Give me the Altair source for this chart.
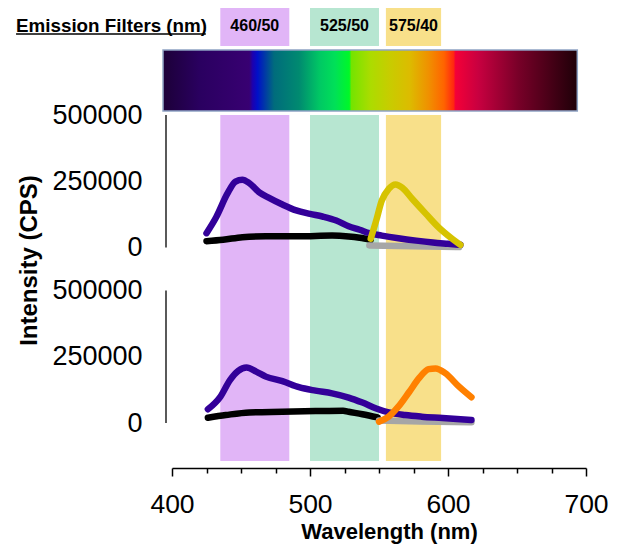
import altair as alt
import pandas as pd

FONT = "Liberation Sans"

# ---------------- data ----------------
header_title = "Emission Filters (nm)"
header_title_nm = [287.0, 424.5]          # extent of the underlined heading on the wavelength scale

filter_labels = ["460/50", "525/50", "575/40"]
filter_lo = [435, 500, 555]
filter_hi = [485, 550, 595]
filter_colors = ["#e1b5f7", "#b7e6d1", "#f8e08a"]

spectrum_range = [393.5, 693.7]
spectrum_stop_nm = [393.5, 420, 456, 458.5, 462, 474, 492, 507, 518, 528.5, 530, 544, 558, 572,
                    586, 597, 604, 605.5, 622, 651, 693.7]
spectrum_stop_colors = ["#1c0038", "#2a0060", "#380072", "#1c00b0", "#0010c8", "#006c7c", "#008a70",
                        "#00c864", "#00e058", "#00f828", "#74e400", "#acdc00", "#c8cc00", "#dcbc00",
                        "#f09000", "#ff6400", "#ff2810", "#f40038", "#c80040", "#780028", "#1e0008"]

x_major = [400, 500, 600, 700]
x_minor = [425, 450, 475, 525, 550, 575, 625, 650, 675]
y_ticks = [0, 250000, 500000]

# top panel
top_black_wl = [425, 437, 451, 468, 492, 516, 528, 536, 544]
top_black_val = [24000, 29000, 39000, 42500, 42500, 45000, 41500, 36500, 29000]
top_gray_wl = [543, 575, 608]
top_gray_val = [8000, 4500, 1500]
top_purple_wl = [425, 432, 440, 446, 451, 456, 463, 470, 480, 490, 500, 509, 519, 528, 536, 543,
                 552, 564, 577, 589, 600, 609]
top_purple_val = [54000, 114000, 202000, 249000, 256000, 243000, 209000, 188000, 162000, 140000,
                  127000, 117000, 102000, 80000, 67000, 54000, 45000, 35000, 26000, 19000, 14000, 10000]
top_yellow_wl = [544, 548, 552, 557, 562, 567, 574, 584, 593, 603, 609]
top_yellow_val = [33000, 102000, 177000, 221000, 238000, 225000, 184000, 127000, 77000, 33000, 10000]

# bottom panel
bot_black_wl = [426, 439, 456, 480, 504, 524, 528, 538, 549]
bot_black_val = [20000, 30000, 40000, 42500, 45000, 46500, 42500, 33000, 21000]
bot_gray_wl = [550, 580, 617]
bot_gray_val = [9000, 5500, 2600]
bot_purple_wl = [426, 435, 442, 448, 454, 461, 468, 480, 492, 504, 516, 528, 538, 548, 557, 569,
                 581, 596, 617]
bot_purple_val = [52000, 99000, 162000, 197000, 209000, 194000, 175000, 158000, 135000, 122000,
                  112000, 96000, 77000, 55000, 40000, 30000, 24000, 19000, 11000]
bot_orange_wl = [550, 557, 564, 572, 579, 586, 591, 598, 608, 617]
bot_orange_val = [5000, 24000, 61500, 118000, 169000, 203000, 206000, 188000, 137000, 97000]

COL_BLACK, COL_GRAY, COL_PURPLE = "#000000", "#a6a6a6", "#330099"
COL_YELLOW, COL_ORANGE = "#d6c300", "#ff8000"

# ---------------- layout ----------------
W = 414
PANEL_H = 346
UNITS_PER_PX = 500000 / 132.5
top_domain = [y_ticks[-1] - PANEL_H * UNITS_PER_PX, y_ticks[-1]]
bot_domain = [-38 * UNITS_PER_PX, (PANEL_H - 38) * UNITS_PER_PX]

xscale = alt.Scale(domain=[x_major[0], x_major[-1]], nice=False, zero=False)
fill_scale = alt.Scale(domain=filter_labels, range=filter_colors)

filters_df = pd.DataFrame({"label": filter_labels, "lo": filter_lo, "hi": filter_hi,
                           "mid": [(a + b) / 2 for a, b in zip(filter_lo, filter_hi)]})

# ---------------- header ----------------
boxes = alt.Chart(filters_df).mark_rect().encode(
    x=alt.X("lo:Q", scale=xscale, axis=None), x2="hi",
    fill=alt.Fill("label:N", scale=fill_scale, legend=None))
box_text = alt.Chart(filters_df).mark_text(
    font=FONT, fontSize=16, fontWeight="bold", color="black", baseline="middle").encode(
    x=alt.X("mid:Q", scale=xscale, axis=None), y=alt.value(18), text="label:N")
title_df = pd.DataFrame({"t": [header_title], "x0": [header_title_nm[0]], "x1": [header_title_nm[1]]})
title_text = alt.Chart(title_df).mark_text(
    font=FONT, fontSize=18.8, fontWeight="bold", color="black", align="left",
    baseline="alphabetic").encode(
    x=alt.X("x0:Q", scale=xscale, axis=None), y=alt.value(23.5), text="t:N")
underline = alt.Chart(title_df).mark_rule(color="black", strokeWidth=1.6).encode(
    x=alt.X("x0:Q", scale=xscale, axis=None), x2="x1", y=alt.value(26))
header = alt.layer(boxes, box_text, title_text, underline).properties(width=W, height=38)

# ---------------- spectrum bar ----------------
span = spectrum_range[1] - spectrum_range[0]
grad = alt.Gradient(
    gradient="linear", x1=0, x2=1, y1=0, y2=0,
    stops=[alt.GradientStop(color=c, offset=max(0.0, min(1.0, (n - spectrum_range[0]) / span)))
           for n, c in zip(spectrum_stop_nm, spectrum_stop_colors)])
spec_df = pd.DataFrame({"lo": [spectrum_range[0]], "hi": [spectrum_range[1]]})
spectrum = alt.Chart(spec_df).mark_rect(fill=grad, stroke="#8fa3c4", strokeWidth=1.5).encode(
    x=alt.X("lo:Q", scale=xscale, axis=None), x2="hi").properties(width=W, height=61)

# ---------------- panels ----------------
bands = alt.Chart(filters_df).mark_rect().encode(
    x=alt.X("lo:Q", scale=xscale, axis=None), x2="hi",
    fill=alt.Fill("label:N", scale=fill_scale, legend=None))


def yaxis(title=None):
    kw = dict(orient="left", values=y_ticks, format="d", grid=False, domain=False,
              ticks=False, tickSize=0, labelFont=FONT, labelFontSize=27, labelColor="black",
              labelPadding=30)
    if title:
        kw.update(title=title, titleFont=FONT, titleFontSize=24, titleFontWeight="bold",
                  titleColor="black", titlePadding=10, titleY=145)
    else:
        kw.update(title=None)
    return alt.Axis(**kw)


def panel_layers(series, domain, axis):
    yscale = alt.Scale(domain=domain, nice=False, zero=False)
    axis_df = pd.DataFrame({"lo": [y_ticks[0]], "hi": [y_ticks[-1]]})
    layers = [alt.Chart(axis_df).mark_rule(color="black", strokeWidth=1.3).encode(
        x=alt.value(-6), y=alt.Y("lo:Q", scale=yscale, axis=axis), y2="hi")]
    for wl, val, col in series:
        df = pd.DataFrame({"wl": wl, "val": val})
        layers.append(alt.Chart(df).mark_line(
            color=col, strokeWidth=6.5, strokeCap="round", strokeJoin="round",
            interpolate="monotone").encode(
            x=alt.X("wl:Q", scale=xscale, axis=None),
            y=alt.Y("val:Q", scale=yscale, axis=None)))
    return layers


top_layers = panel_layers([(top_black_wl, top_black_val, COL_BLACK),
                           (top_gray_wl, top_gray_val, COL_GRAY),
                           (top_purple_wl, top_purple_val, COL_PURPLE),
                           (top_yellow_wl, top_yellow_val, COL_YELLOW)], top_domain, yaxis())
bottom_layers = panel_layers([(bot_black_wl, bot_black_val, COL_BLACK),
                              (bot_gray_wl, bot_gray_val, COL_GRAY),
                              (bot_purple_wl, bot_purple_val, COL_PURPLE),
                              (bot_orange_wl, bot_orange_val, COL_ORANGE)], bot_domain,
                             yaxis("Intensity (CPS)"))

panels = alt.layer(bands, *top_layers, *bottom_layers).resolve_scale(
    y="independent").properties(width=W, height=PANEL_H)

# ---------------- wavelength axis ----------------
x_axis = alt.Axis(
    orient="bottom", values=sorted(x_major + x_minor), offset=2, grid=False,
    domain=True, domainColor="black", domainWidth=1.5,
    ticks=True, tickColor="black", tickWidth=1.5,
    tickSize={"condition": {"test": "datum.value % 100 === 0", "value": 8}, "value": 5},
    labelExpr="datum.value % 100 === 0 ? datum.label : ''",
    labelFont=FONT, labelFontSize=26.5, labelColor="black", labelPadding=15,
    labelFlush=False, labelOverlap=False,
    title="Wavelength (nm)", titleFont=FONT, titleFontSize=22, titleFontWeight="bold",
    titleColor="black", titlePadding=4, titleX=217)
axis_df = pd.DataFrame({"wl": x_major})
xaxis_chart = alt.Chart(axis_df).mark_point(opacity=0).encode(
    x=alt.X("wl:Q", scale=xscale, axis=x_axis)).properties(width=W, height=1)

chart = alt.vconcat(header, spectrum, panels, xaxis_chart, spacing=4, bounds="flush").properties(
    padding={"left": 7, "top": 0, "right": 0, "bottom": 79}, background="white"
).configure_view(stroke=None)

chart.save("out.html", embed_options={"renderer": "svg", "actions": False})
